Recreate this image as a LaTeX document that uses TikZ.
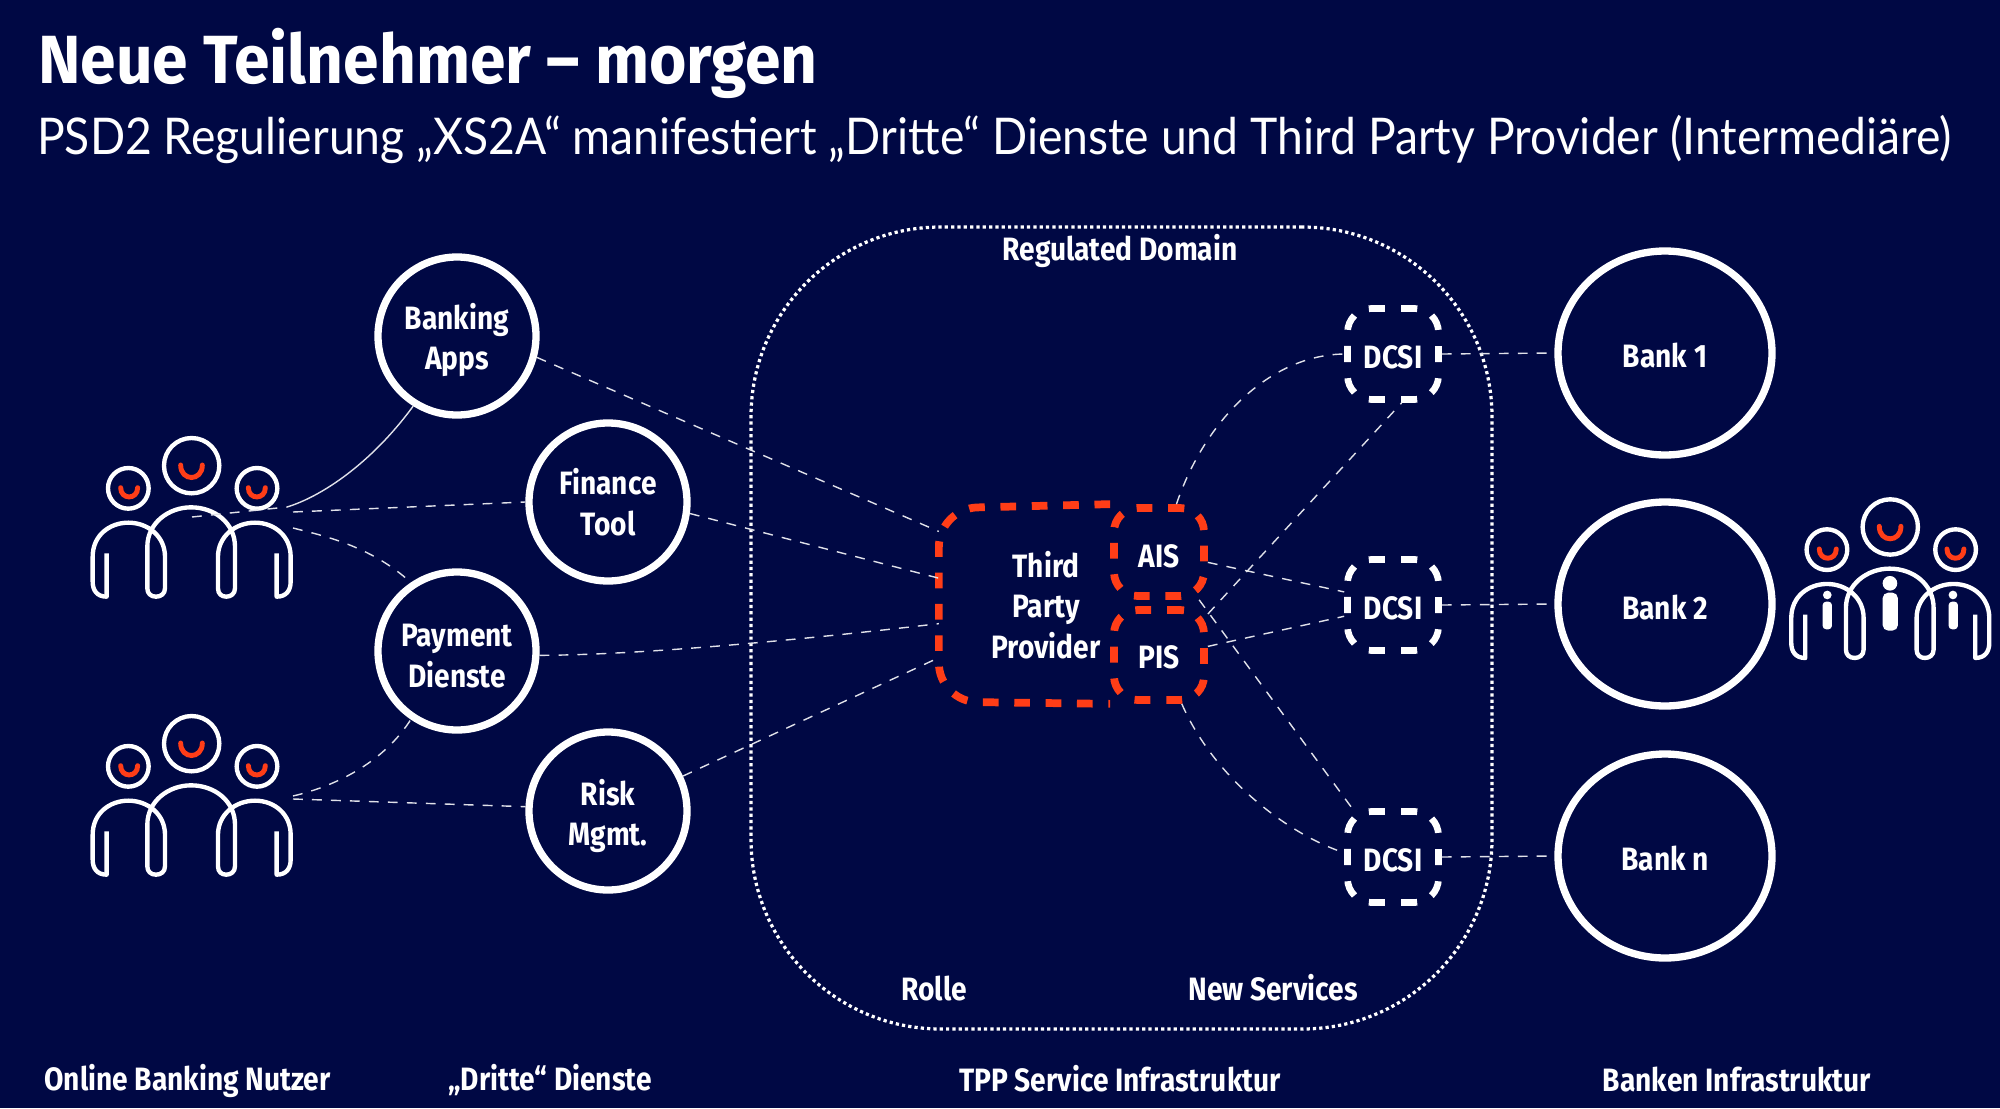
\documentclass[tikz,border=0pt]{standalone}
\usepackage{fontspec}
\setmainfont[FakeStretch=0.87]{Fira Sans}
\newfontfamily\titlefont[FakeStretch=0.94]{Fira Sans}
\newfontfamily\subfont[FakeStretch=0.914]{Lato}
\usetikzlibrary{calc,shapes.geometric}
\definecolor{bg}{HTML}{000844}
\definecolor{accent}{HTML}{FF3D17}
\def\px{0.05cm}
\newcommand{\peoplebody}{%
  \draw[iconline] (395,197) circle[radius=83];
  \draw[iconline] (205,265) circle[radius=61];
  \draw[iconline] (591,265) circle[radius=61];
  \draw[smile] (362,195) .. controls (362,245) and (427,245) .. (427,195);
  \draw[smile] (182,263) .. controls (182,300) and (233,300) .. (233,263);
  \draw[smile] (565,263) .. controls (565,300) and (616,300) .. (616,263);
  \draw[iconline] (140,460) -- (140,590) .. controls (110,590) and (98,570) .. (98,545) -- (98,470)
    .. controls (98,405) and (150,368) .. (205,368) .. controls (265,368) and (315,410) .. (315,470)
    -- (315,565) .. controls (315,582) and (302,590) .. (288,590) .. controls (272,590) and (262,580) .. (262,565)
    -- (262,440) .. controls (262,370) and (325,322) .. (393,322) .. controls (465,322) and (525,370) .. (525,440)
    -- (525,565) .. controls (525,582) and (512,590) .. (499,590) .. controls (485,590) and (474,582) .. (474,565)
    -- (474,470) .. controls (474,410) and (525,368) .. (585,368) .. controls (645,368) and (692,410) .. (692,470)
    -- (692,545) .. controls (692,570) and (680,590) .. (650,590) -- (650,460);
}
\tikzset{
  iconline/.style={draw=white,line width=6.2pt,line join=round},
  smile/.style={draw=accent,line width=7pt,line cap=round},
  txt/.style={text=white,font=\fontsize{46}{58}\selectfont\bfseries,align=center,inner sep=0pt},
  svc/.style={circle,draw=white,line width=10.4pt,minimum size=158*\px,inner sep=0pt},
  bank/.style={ellipse,draw=white,line width=10.4pt,minimum width=214*\px,minimum height=204*\px,inner sep=0pt},
  dcsi/.style={rectangle,rounded corners=34pt,draw=white,line width=9.5pt,dash pattern=on 22.9pt off 23pt,dash phase=3.6pt,
     minimum width=91*\px,minimum height=91*\px,inner sep=0pt},
  redbox/.style={rectangle,rounded corners=34pt,draw=accent,line width=11pt,
     minimum width=90*\px,inner sep=0pt},
  conn/.style={draw=white!88!bg,line width=2pt,dash pattern=on 14pt off 13pt},
  connsolid/.style={draw=white!88!bg,line width=2pt},
}
\begin{document}
\begin{tikzpicture}[x=\px,y=-\px]
\useasboundingbox (0,0) rectangle (2000,1108);
\fill[bg] (0,0) rectangle (2000,1108);
% regulated domain
\node[draw=white,line width=4.6pt,dash pattern=on 4.6pt off 4.4pt,rounded corners=270pt,
  minimum width=741*\px,minimum height=802*\px] (domain) at (1121.5,628) {};
% titles
\node[anchor=base west,text=white,inner sep=0pt,font=\fontsize{97}{110}\selectfont\titlefont\bfseries] (title) at (38,83) {Neue Teilnehmer – morgen};
\node[anchor=base west,text=white,inner sep=0pt,font=\fontsize{72}{84}\selectfont\subfont] (subtitle) at (37,154) {PSD2 Regulierung „XS2A“ manifestiert „Dritte“ Dienste und Third Party Provider (Intermediäre)};
% captions
\node[txt] (regd) at (1120,251) {Regulated Domain};
\node[txt] (rolle) at (934,988) {Rolle};
\node[txt] (newserv) at (1273,988) {New Services};
\node[txt] (cap1) at (187.5,1081) {Online Banking Nutzer};
\node[txt] (cap2) at (550,1080) {„Dritte“ Dienste};
\node[txt] (cap3) at (1120,1079) {TPP Service Infrastruktur};
\node[txt] (cap4) at (1737,1079) {Banken Infrastruktur};
% people
\begin{scope}[shift={(60,400)},x=\px/3,y=-\px/3]\peoplebody\end{scope}
\begin{scope}[shift={(60,678)},x=\px/3,y=-\px/3]\peoplebody\end{scope}
\begin{scope}[shift={(1758.6,461.3)},x=\px/3,y=-\px/3]\peoplebody
  \fill[white] (394,366) circle[radius=22] (206,401) circle[radius=13] (583,401) circle[radius=13];
  \fill[white,rounded corners=8pt] (372,394) rectangle (418,508);
  \fill[white,rounded corners=5pt] (192,421) rectangle (220,504);
  \fill[white,rounded corners=5pt] (570,421) rectangle (598,504);
\end{scope}
\coordinate (u1) at (192,517);
\coordinate (u1a) at (287,507);
\coordinate (u1b) at (293,512);
\coordinate (u1c) at (293,528);
\coordinate (u2a) at (293,796);
\coordinate (u2b) at (293,799);
% service circles
\node[svc] (apps) at (457,336) {};
\node[txt] (appslabel) at (457,340) {Banking\\Apps};
\node[svc] (fin) at (608,502) {};
\node[txt] (finlabel) at (608,502) {Finance\\Tool};
\node[svc] (pay) at (457,651) {};
\node[txt] (paylabel) at (457,656) {Payment\\Dienste};
\node[svc] (risk) at (608,811) {};
\node[txt] (risklabel) at (608,816) {Risk\\Mgmt.};
% banks
\node[bank] (b1) at (1665,353) {};
\node[txt] (b1label) at (1665,355) {Bank 1};
\node[bank] (b2) at (1665,604) {};
\node[txt] (b2label) at (1665,607) {Bank 2};
\node[bank] (bn) at (1665,856) {};
\node[txt] (bnlabel) at (1665,858) {Bank n};
% dcsi
\node[dcsi] (d1) at (1393,354) {};
\node[txt] (d1label) at (1393,357) {DCSI};
\node[dcsi] (d2) at (1393,605) {};
\node[txt] (d2label) at (1393,608) {DCSI};
\node[dcsi] (d3) at (1393,857) {};
\node[txt] (d3label) at (1393,860) {DCSI};
% TPP
\node[txt,minimum width=175*\px,minimum height=193*\px] (tpp) at (1026.5,605) {};
\node[txt] (tpplabel) at (1046,605) {Third\\Party\\Provider};
\node[redbox,minimum height=88*\px,dash pattern=on 22.4pt off 22.3pt,dash phase=5.2pt] (ais) at (1159,552) {};
\node[txt] (aislabel) at (1159,556) {AIS};
\node[redbox,minimum height=90*\px,dash pattern=on 22.6pt off 22.6pt,dash phase=4.1pt] (pis) at (1159,655) {};
\node[txt] (pislabel) at (1159,657) {PIS};
\draw[accent,line width=11pt,dash pattern=on 22.3pt off 22.3pt,rounded corners=55pt]
  (ais.north west) -- (tpp.north west) -- (tpp.south west) -- (pis.south west);
% connectors
\draw[conn] (u1) -- (u1a);
\draw[connsolid] (u1a) .. controls (320,497) and (370,465) .. (apps.238);
\draw[conn] (u1b) -- (fin.180);
\draw[conn] (u1c) .. controls (320,535) and (370,545) .. (pay.124);
\draw[conn] (u2a) .. controls (340,785) and (385,760) .. (pay.236);
\draw[conn] (u2b) -- (risk.177);
\draw[conn] (apps.-15) -- (tpp.140);
\draw[conn] (fin.-8) -- (tpp.163);
\draw[conn] (pay.-3) .. controls (640,655) and (800,640) .. (tpp.192);
\draw[conn] (risk.25) -- (tpp.211);
\draw[conn] (ais.70) .. controls (1205,420) and (1270,355) .. (d1.180);
\draw[conn] (ais.-12) -- (d2.165);
\draw[conn] (pis.10) -- (d2.193);
\draw[conn] (pis.40) -- (d1.-80);
\draw[conn] (ais.-50) -- (d3.130);
\draw[conn] (pis.-65) .. controls (1215,780) and (1290,835) .. (d3.175);
\draw[conn] (d1.east) -- (b1.west);
\draw[conn] (d2.east) -- (b2.west);
\draw[conn] (d3.east) -- (bn.west);
\end{tikzpicture}
\end{document}
